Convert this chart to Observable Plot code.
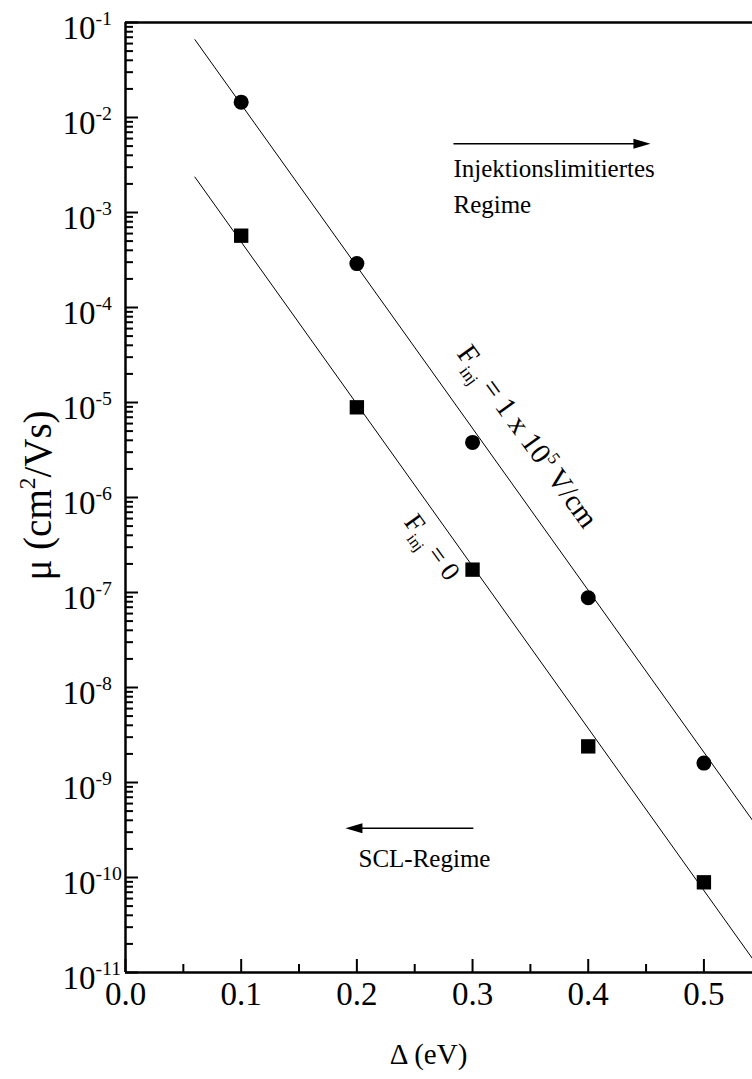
<!DOCTYPE html>
<html>
<head>
<meta charset="utf-8">
<script src="https://cdn.jsdelivr.net/npm/d3@7"></script>
<script src="https://cdn.jsdelivr.net/npm/@observablehq/plot@0.6"></script>
<style>
  html, body { margin: 0; padding: 0; background: #fff; }
  #chart { width: 752px; height: 1079px; overflow: hidden; }
  #chart svg, #chart svg text, #chart svg tspan { font-family: "Liberation Serif", "Times New Roman", serif !important; }
</style>
</head>
<body>
<div id="chart"></div>
<script>
// ---- data ----
const deltas = [0.1, 0.2, 0.3, 0.4, 0.5];
const muField = [1.45e-2, 2.9e-4, 3.8e-6, 8.8e-8, 1.6e-9];   // F_inj = 1e5 V/cm (circles)
const muZero  = [5.7e-4, 8.9e-6, 1.74e-7, 2.4e-9, 8.9e-11];  // F_inj = 0 (squares)

const fitX = [0.06, 0.542];
const fitField = [6.6e-2, 4.0e-10];
const fitZero  = [2.36e-3, 1.4e-11];

const xMajor = [0, 0.1, 0.2, 0.3, 0.4, 0.5];
const xMinor = [0.05, 0.15, 0.25, 0.35, 0.45];
const yExps = [-1, -2, -3, -4, -5, -6, -7, -8, -9, -10, -11];
const yMajor = yExps.map(e => Math.pow(10, e));
const yMinor = [];
for (let e = -11; e <= -2; e++) for (let m = 2; m <= 9; m++) yMinor.push(m * Math.pow(10, e));

const noteTexts = [
  {x: 0.2835, y: 2.9e-3, text: "Injektionslimitiertes"},
  {x: 0.2835, y: 1.19e-3, text: "Regime"},
  {x: 0.2014, y: 1.58e-10, text: "SCL-Regime"}
];
const arrows = [
  {x1: 0.2835, x2: 0.4538, y: 5.3e-3, dir: 0},
  {x1: 0.3007, x2: 0.1901, y: 3.3e-10, dir: 180}
];
const lineLabels = [
  {x: 0.3474, y: 4.4e-6, text: "F_{inj} = 1 x 10^{5} V/cm", size: 29},
  {x: 0.2651, y: 3.0e-7, text: "F_{inj} = 0", size: 27}
];

// ---- helpers ----
const FONT = "'Liberation Serif', 'Times New Roman', serif";
const series = (xs, ys) => xs.map((x, i) => ({x, y: ys[i]}));
const arrowHead = {
  draw(ctx) { ctx.moveTo(0, 0); ctx.lineTo(-17, -5); ctx.lineTo(-17, 5); ctx.closePath(); }
};

const W = 752, H = 1079, ML = 125, MT = 22, MB = 107, MR = 0;
const innerW = W - ML - MR, innerH = H - MT - MB;

const plot = Plot.plot({
  width: W, height: H,
  marginLeft: ML, marginRight: MR, marginTop: MT, marginBottom: MB,
  style: {fontFamily: FONT, background: "white", color: "black", overflow: "hidden"},
  x: {type: "linear", domain: [0, 0.542], axis: null},
  y: {type: "log", domain: [1e-11, 1e-1], axis: null},
  marks: [
    // fit lines
    Plot.line(series(fitX, fitField), {x: "x", y: "y", stroke: "black", strokeWidth: 1}),
    Plot.line(series(fitX, fitZero), {x: "x", y: "y", stroke: "black", strokeWidth: 1}),
    // data points
    Plot.dot(series(deltas, muField), {x: "x", y: "y", r: 7.5, fill: "black", stroke: "none", symbol: "circle"}),
    Plot.dot(series(deltas, muZero), {x: "x", y: "y", r: 8.1, fill: "black", stroke: "none", symbol: "square"}),
    // frame
    Plot.ruleX([0], {stroke: "black", strokeWidth: 2.5}),
    Plot.ruleY([1e-11], {stroke: "black", strokeWidth: 2.5}),
    Plot.ruleY([1e-1], {stroke: "black", strokeWidth: 2.5}),
    // inward ticks
    Plot.tickX(xMajor, {x: d => d, insetTop: innerH - 13, stroke: "black", strokeWidth: 2}),
    Plot.tickX(xMinor, {x: d => d, insetTop: innerH - 8, stroke: "black", strokeWidth: 2}),
    Plot.tickY(yMajor, {y: d => d, insetRight: innerW - 13, stroke: "black", strokeWidth: 2}),
    Plot.tickY(yMinor, {y: d => d, insetRight: innerW - 8, stroke: "black", strokeWidth: 2}),
    // tick labels
    Plot.text(xMajor, {x: d => d, frameAnchor: "bottom", dy: 32, text: d => d3.format(".1f")(d), fontSize: 33, fontFamily: FONT, fill: "black"}),
    Plot.text(yExps, {y: e => Math.pow(10, e), frameAnchor: "left", dx: -63, dy: 6, textAnchor: "start", text: e => `10^{${e}}`, fontSize: 33, fontFamily: FONT, fill: "black"}),
    // axis titles
    Plot.text(["Δ (eV)"], {x: 0.262, frameAnchor: "bottom", dy: 91, text: d => d, fontSize: 29, fontFamily: FONT, fill: "black"}),
    Plot.text(["μ (cm^{2}/Vs)"], {y: 1.05e-6, frameAnchor: "left", dx: -87, rotate: -90, textAnchor: "middle", text: d => d, fontSize: 39, fontFamily: FONT, fill: "black"}),
    // annotations
    Plot.link(arrows, {x1: "x1", x2: d => d.x2 + (d.dir === 0 ? -0.01 : 0.01), y1: "y", y2: "y", stroke: "black", strokeWidth: 1.6}),
    Plot.dot(arrows, {x: "x2", y: "y", symbol: arrowHead, rotate: d => d.dir, fill: "black", stroke: "none", r: 5}),
    Plot.text(noteTexts, {x: "x", y: "y", text: "text", textAnchor: "start", fontSize: 25, fontFamily: FONT, fill: "black"}),
    Plot.text(lineLabels, {x: "x", y: "y", text: "text", rotate: 54, fontSize: d => d.size, fontFamily: FONT, fill: "black"})
  ]
});

document.getElementById("chart").appendChild(plot);

// rich text: ^{...} superscript, _{...} subscript
function richify(svg) {
  svg.querySelectorAll("text").forEach(t => {
    const s = t.textContent;
    if (!/[\^_]\{/.test(s)) return;
    const fs = parseFloat(getComputedStyle(t).fontSize) || 20;
    while (t.firstChild) t.removeChild(t.firstChild);
    const re = /([\^_])\{([^}]*)\}/g;
    let last = 0, m, shift = 0;
    const add = (str, kind) => {
      if (!str) return;
      const ts = document.createElementNS("http://www.w3.org/2000/svg", "tspan");
      let target = 0;
      if (kind === "^") { target = -fs * 0.42; ts.setAttribute("font-size", fs * 0.6); }
      else if (kind === "_") { target = fs * 0.28; ts.setAttribute("font-size", fs * 0.6); }
      const d = target - shift;
      if (d !== 0) ts.setAttribute("dy", d);
      shift = target;
      ts.textContent = str;
      t.appendChild(ts);
    };
    while ((m = re.exec(s))) {
      add(s.slice(last, m.index), "");
      add(m[2], m[1]);
      last = re.lastIndex;
    }
    add(s.slice(last), "");
  });
}
richify(plot);
</script>
</body>
</html>
